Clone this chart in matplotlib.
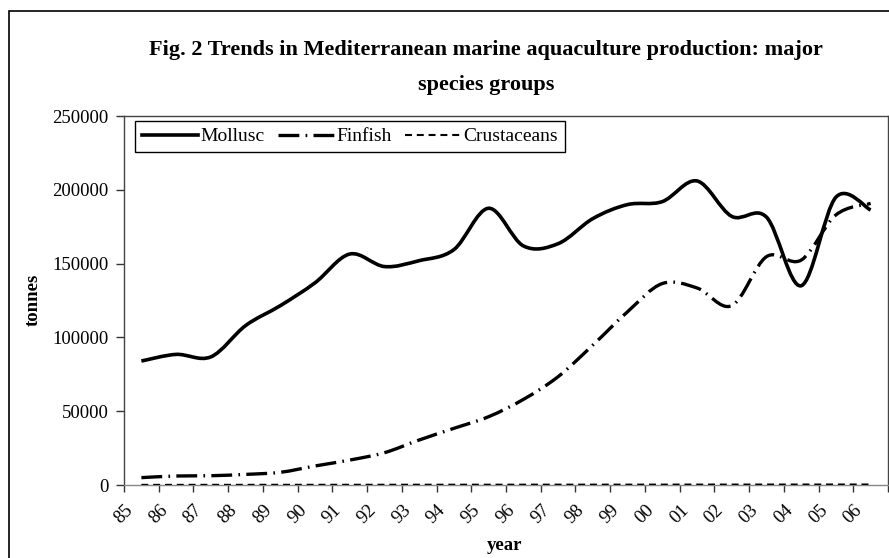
import matplotlib
matplotlib.use('Agg')
import matplotlib.pyplot as plt
import matplotlib.transforms as mtransforms
from matplotlib.path import Path
from matplotlib.patches import PathPatch, Rectangle
from matplotlib.lines import Line2D

plt.rcParams['font.family'] = ['Liberation Serif', 'DejaVu Serif']
plt.rcParams['lines.scale_dashes'] = False

# data (tonnes)
years = ['85', '86', '87', '88', '89', '90', '91', '92', '93', '94', '95',
         '96', '97', '98', '99', '00', '01', '02', '03', '04', '05', '06']
mollusc = [84000, 88500, 86800, 108000, 121500, 137000, 156500, 148000, 152000, 159500, 187500,
           162000, 163500, 180500, 190000, 192000, 206000, 182000, 181500, 135000, 195000, 186300]
finfish = [5000, 6100, 6300, 7200, 8600, 12900, 16900, 21900, 30500, 38400, 46300,
           58000, 73400, 94800, 117400, 136500, 133500, 121500, 154700, 152400, 183000, 190800]
crustaceans = [100, 100, 120, 120, 150, 150, 160, 180, 200, 200, 220,
               230, 250, 250, 260, 280, 300, 300, 320, 320, 340, 350]


def smooth_path(ys):
    # Excel style smoothed line: Bezier segments through each point
    xs = list(range(len(ys)))
    pts = list(zip(xs, ys))
    verts = [pts[0]]
    codes = [Path.MOVETO]
    n = len(pts)
    for i in range(n - 1):
        p0 = pts[max(i - 1, 0)]
        p1 = pts[i]
        p2 = pts[i + 1]
        p3 = pts[min(i + 2, n - 1)]
        c1 = (p1[0] + (p2[0] - p0[0]) / 6, p1[1] + (p2[1] - p0[1]) / 6)
        c2 = (p2[0] - (p3[0] - p1[0]) / 6, p2[1] - (p3[1] - p1[1]) / 6)
        verts += [c1, c2, p2]
        codes += [Path.CURVE4] * 3
    return Path(verts, codes)


fig = plt.figure(figsize=(8.89, 5.58), dpi=100)
ax = fig.add_axes([0.1395, 0.1308, 0.8594, 0.6613])

# outer chart frame
fig.patches.append(Rectangle((9 / 889, -0.05), 1.0, 1 - 11 / 558 + 0.05, transform=fig.transFigure,
                             fill=False, edgecolor='black', linewidth=1.2))

styles = {
    'Mollusc': dict(color='black', linewidth=2.6, linestyle='-'),
    'Finfish': dict(color='black', linewidth=2.4, linestyle=(0, (15, 4.5, 1.2, 4.5))),
    'Crustaceans': dict(color='black', linewidth=1.5, linestyle=(0, (5, 3.5))),
}

for name, vals in [('Crustaceans', crustaceans), ('Finfish', finfish), ('Mollusc', mollusc)]:
    st = styles[name]
    patch = PathPatch(smooth_path(vals), fill=False, edgecolor=st['color'],
                      linewidth=st['linewidth'], linestyle=st['linestyle'],
                      capstyle='butt', joinstyle='round', zorder=3)
    ax.add_patch(patch)

ax.set_xlim(-0.5, len(years) - 0.5)
ax.set_ylim(0, 250000)
ax.set_yticks(range(0, 250001, 50000))
ax.set_yticklabels([str(v) for v in range(0, 250001, 50000)])

# ticks on category boundaries, labels at centres
ax.set_xticks([i - 0.5 for i in range(len(years) + 1)])
ax.set_xticklabels([])
ax.set_xticks(range(len(years)), minor=True)
ax.set_xticklabels(years, minor=True, rotation=45, ha='right', va='top')
ax.tick_params(axis='x', which='minor', length=0, pad=12, labelsize=13.5)
ax.tick_params(axis='x', which='major', length=5, width=1, color='#333333', direction='out')
ax.tick_params(axis='y', length=6, width=1, color='#333333', pad=5, labelsize=13.5)
offset = mtransforms.ScaledTranslation(-5 / 100, 0, fig.dpi_scale_trans)
for lab in ax.get_xticklabels(minor=True):
    lab.set_transform(lab.get_transform() + offset)

for side in ['left', 'bottom', 'top', 'right']:
    ax.spines[side].set_color('#444444')
    ax.spines[side].set_linewidth(1.0)
ax.spines['bottom'].set_color('#888888')

handles = [Line2D([], [], **styles[k]) for k in ['Mollusc', 'Finfish', 'Crustaceans']]
leg = ax.legend(handles, ['Mollusc', 'Finfish', 'Crustaceans'], ncol=3, loc='upper left',
                bbox_to_anchor=(11 / 764, 1 - 5 / 369), borderaxespad=0, fontsize=14,
                frameon=True, fancybox=False, framealpha=1, edgecolor='black',
                handlelength=2.9, handletextpad=0.1, columnspacing=0.7, borderpad=0.35)
leg.get_frame().set_linewidth(1.0)

fig.text(486 / 889, 1 - 55 / 558,
         'Fig. 2 Trends in Mediterranean marine aquaculture production: major',
         ha='center', va='baseline', fontsize=16, fontweight='bold')
fig.text(486 / 889, 1 - 90 / 558, 'species groups',
         ha='center', va='baseline', fontsize=16, fontweight='bold')
fig.text(33 / 889, 1 - 300 / 558, 'tonnes', rotation=90, ha='center', va='center',
         fontsize=13.5, fontweight='bold')
fig.text(505 / 889, 1 - 545 / 558, 'year', ha='center', va='center',
         fontsize=13.5, fontweight='bold')

fig.savefig('out.png', dpi=100)
